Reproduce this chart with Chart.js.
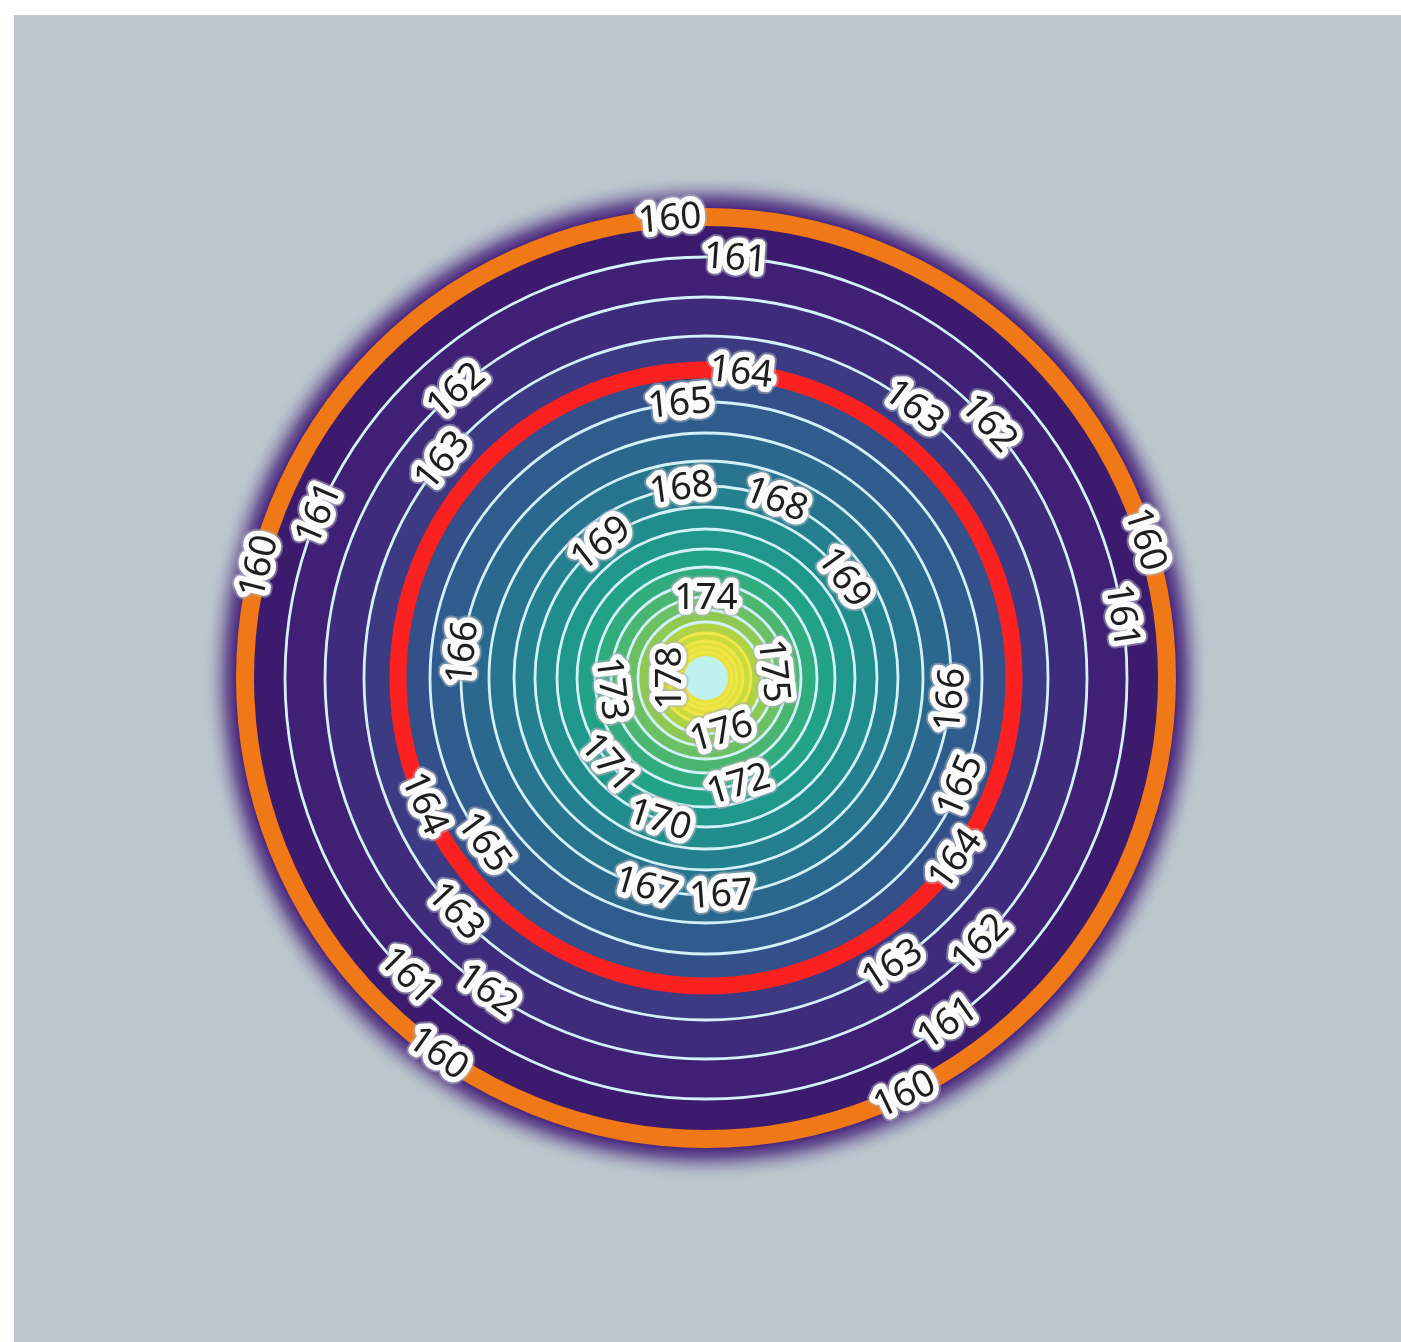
<!DOCTYPE html>
<html>
<head>
<meta charset="utf-8">
<title>Contours</title>
<script src="https://cdn.jsdelivr.net/npm/chart.js@4/dist/chart.umd.min.js"></script>
<style>
  html, body { margin: 0; padding: 0; background: #ffffff; }
  #bg { position: absolute; left: 14px; top: 15px; width: 1387px; height: 1327px; background: #bcc8ce; }
  #wrap { position: absolute; left: 166px; top: 138px; width: 1080px; height: 1080px; }
</style>
</head>
<body>
<div id="bg"></div>
<div id="wrap"><canvas id="contours"></canvas></div>
<script>
// contour levels and their distance from the summit (scale units)
const levels = [160, 161, 162, 163, 164, 165, 166, 167, 168, 169, 170, 171, 172, 173, 174, 175, 176, 177, 178, 179, 180];
const levelRadius = [461, 421, 381, 342, 308, 276, 245, 217, 192, 171, 149, 129, 111, 95, 81, 68, 56, 45, 37, 31, 26];
// fill just inside each level
const bandColors = [
  "#3c1a6e", "#3f2074", "#3f2b7b", "#3b3a82", "#33508a", "#2f5c8c", "#2b688d", "#28748e",
  "#24808e", "#208c8c", "#1f978a", "#22a286", "#30ac7e", "#4bb672", "#6bc063", "#8eca53",
  "#b0d345", "#cbdb3c", "#dfe03a", "#e6e23c", "#e9e23e",
];
const summitRadius = 22;
const haloRadius = 504;
const axisMax = 540;

// contour labels: level and polar angle (deg, clockwise from east)
const labelLevels = [160, 161, 164, 165, 163, 162, 162, 163, 161, 160, 168, 168, 169, 169, 174, 166, 173, 178, 175, 176,
  171, 172, 170, 166, 165, 164, 164, 165, 163, 167, 167, 163, 162, 161, 162, 161, 160, 160, 160, 161];
const labelAngles = [-94.5, -86, -83.5, -95.5, -52.5, -42, -131, -140.5, -157, -166, -97.5, -68.5, -128, -36, -90, -174, 173.5, 180, -6, 74,
  139, 73, 108, 5, 23, 36, 156, 143.5, 137, 106, 86, 57, 44, 135, 125, 55, 125.5, 64.5, -17.5, -8.5];

function lineColor(level) {
  if (level === 160) return "#f07816";
  if (level === 164) return "#fb2121";
  if (level >= 177) return "#efe64a";
  return "#d3f1f8";
}

function lineWidth(level) {
  if (level === 160) return 18;
  if (level === 164) return 17;
  return 2.8;
}

function haloFill(ctx) {
  const chart = ctx.chart;
  const s = chart.scales.r;
  if (!s || !chart.chartArea) return "rgba(70,40,120,0.5)";
  const r0 = s.getDistanceFromCenterForValue(levelRadius[0] + 8);
  const r1 = s.getDistanceFromCenterForValue(haloRadius);
  const g = chart.ctx.createRadialGradient(s.xCenter, s.yCenter, r0, s.xCenter, s.yCenter, r1);
  g.addColorStop(0, "#43207a");
  g.addColorStop(0.3, "rgba(96, 70, 140, 0.85)");
  g.addColorStop(0.65, "rgba(150, 145, 180, 0.5)");
  g.addColorStop(1, "rgba(188, 200, 206, 0)");
  return g;
}

// innermost first: dataset 0 is drawn last (on top)
const datasets = [{ data: [summitRadius], backgroundColor: "#bff1f0", borderWidth: 0 }];
for (let i = levels.length - 1; i >= 0; i--) {
  datasets.push({ data: [levelRadius[i]], backgroundColor: bandColors[i], borderWidth: 0 });
}
datasets.push({ data: [haloRadius], backgroundColor: haloFill, borderWidth: 0 });

const contourLabels = {
  id: "contourLabels",
  afterDraw(chart) {
    const s = chart.scales.r;
    const ctx = chart.ctx;
    ctx.save();
    ctx.font = "37px 'Noto Sans'";
    ctx.textAlign = "center";
    ctx.textBaseline = "middle";
    ctx.lineJoin = "round";
    labelLevels.forEach((lv, i) => {
      const r = s.getDistanceFromCenterForValue(levelRadius[levels.indexOf(lv)]);
      const a = (labelAngles[i] * Math.PI) / 180;
      let rot = labelAngles[i] + 90;
      while (rot >= 90) rot -= 180;
      while (rot < -90) rot += 180;
      ctx.save();
      ctx.translate(s.xCenter + r * Math.cos(a), s.yCenter + r * Math.sin(a));
      ctx.rotate((rot * Math.PI) / 180);
      const txt = String(lv);
      ctx.strokeStyle = "rgba(170, 175, 185, 0.55)";
      ctx.lineWidth = 15;
      ctx.strokeText(txt, 0, 1);
      ctx.strokeStyle = "#fbfbfb";
      ctx.lineWidth = 11;
      ctx.strokeText(txt, 0, 1);
      ctx.fillStyle = "#1e1e1e";
      ctx.fillText(txt, 0, 1);
      ctx.restore();
    });
    ctx.restore();
  },
};

new Chart(document.getElementById("contours"), {
  type: "polarArea",
  data: { labels: [""], datasets },
  options: {
    responsive: true,
    maintainAspectRatio: false,
    animation: false,
    layout: { padding: 0 },
    plugins: { legend: { display: false }, tooltip: { enabled: false } },
    scales: {
      r: {
        min: 0,
        max: axisMax,
        startAngle: 0,
        afterBuildTicks: (scale) => {
          scale.ticks = [0, ...levelRadius].map((v) => ({ value: v }));
        },
        ticks: { display: false },
        pointLabels: { display: false },
        angleLines: { display: false },
        grid: {
          z: 1,
          circular: true,
          color: (c) => lineColor(levels[c.index - 1]),
          lineWidth: (c) => lineWidth(levels[c.index - 1]),
        },
      },
    },
  },
  plugins: [contourLabels],
});
</script>
</body>
</html>
